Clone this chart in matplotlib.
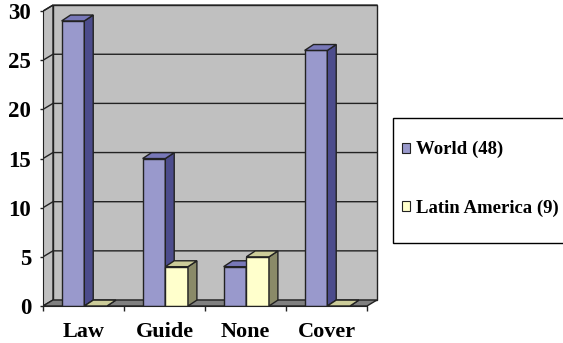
import matplotlib
matplotlib.use('Agg')
import matplotlib.pyplot as plt
from matplotlib.patches import Polygon, Rectangle, Patch

plt.rcParams['font.family'] = ['Liberation Serif', 'DejaVu Serif']
plt.rcParams['font.weight'] = 'bold'

categorias = ['Law', 'Guide', 'None', 'Cover']
world = [29, 15, 4, 26]
latin_america = [0, 4, 5, 0]
series = ['World (48)', 'Latin America (9)']
yticks = [0, 5, 10, 15, 20, 25, 30]

# colores: frente, lado, tapa
col_world = ('#9999CC', '#4C4C8C', '#7878B8')
col_la = ('#FFFFCC', '#8A8A68', '#CCCC99')
borde = '#222222'

# profundidad del efecto 3D (en unidades de datos)
ddx, ddy = 0.123, 0.61   # paredes
bdx, bdy = 0.11, 0.6     # barras
ancho = 0.28

W, H = 563, 343
fig = plt.figure(figsize=(W / 100, H / 100), dpi=100)
px_x, px_y = 81, 9.83
xmax, ymax = 4.2, 31.5
ax = fig.add_axes([43 / W, (H - 306) / H, xmax * px_x / W, ymax * px_y / H])
ax.set_xlim(0, xmax)
ax.set_ylim(0, ymax)
ax.patch.set_visible(False)

n = len(categorias)
top = yticks[-1]

# pared del fondo y lateral
ax.add_patch(Rectangle((ddx, ddy), n, top, facecolor='#C0C0C0', edgecolor=borde, lw=1, zorder=1))
ax.add_patch(Polygon([(0, 0), (ddx, ddy), (ddx, top + ddy), (0, top)], closed=True,
                     facecolor='#C0C0C0', edgecolor=borde, lw=1, zorder=1))
for v in yticks[1:]:
    ax.plot([0, ddx, n + ddx], [v, v + ddy, v + ddy], color='#222222', lw=1, zorder=2)
# piso
ax.add_patch(Polygon([(0, 0), (n, 0), (n + ddx, ddy), (ddx, ddy)], closed=True,
                     facecolor='#808080', edgecolor=borde, lw=1, zorder=2))


def barra3d(x0, h, cols):
    ax.bar(x0, h, width=ancho, align='edge', color=cols[0], edgecolor=borde, lw=1, zorder=3)
    ax.add_patch(Polygon([(x0 + ancho, 0), (x0 + ancho + bdx, bdy), (x0 + ancho + bdx, h + bdy), (x0 + ancho, h)],
                         closed=True, facecolor=cols[1], edgecolor=borde, lw=1, zorder=3))
    ax.add_patch(Polygon([(x0, h), (x0 + ancho, h), (x0 + ancho + bdx, h + bdy), (x0 + bdx, h + bdy)],
                         closed=True, facecolor=cols[2], edgecolor=borde, lw=1, zorder=3))


for i in range(n):
    barra3d(i + 0.23, world[i], col_world)
    barra3d(i + 0.51, latin_america[i], col_la)

# ejes
for s in ['top', 'right']:
    ax.spines[s].set_visible(False)
ax.spines['left'].set_bounds(0, top)
ax.spines['bottom'].set_bounds(0, n)
ax.spines['left'].set_color(borde)
ax.spines['bottom'].set_color(borde)
ax.spines['left'].set_zorder(4)
ax.spines['bottom'].set_zorder(4)
ax.set_yticks(yticks)
ax.set_xticks(range(n + 1))
ax.set_xticklabels([])
ax.set_xticks([i + 0.5 for i in range(n)], minor=True)
ax.set_xticklabels(categorias, minor=True)
ax.tick_params(axis='y', direction='out', length=2.5, width=1, pad=6, labelsize=16.5, color=borde)
ax.tick_params(axis='x', which='major', direction='out', length=3.8, width=1, color=borde)
ax.tick_params(axis='x', which='minor', length=0, pad=11.5, labelsize=16)

# leyenda
fig.patches.append(Rectangle((393 / W, 1 - 243 / H), 180 / W, 125 / H, transform=fig.transFigure,
                             facecolor='white', edgecolor='black', lw=1))
handles = [Patch(facecolor=col_world[0], edgecolor=borde, lw=0.8),
           Patch(facecolor=col_la[0], edgecolor=borde, lw=0.8)]
fig.legend(handles, series, loc='upper left', bbox_to_anchor=(402 / W, 1 - 141 / H),
           frameon=False, prop={'size': 13.5, 'weight': 'bold'}, handlelength=0.45, handleheight=0.45,
           handletextpad=0.3, labelspacing=2.2, borderpad=0, borderaxespad=0)

fig.savefig('out.png', dpi=100)
